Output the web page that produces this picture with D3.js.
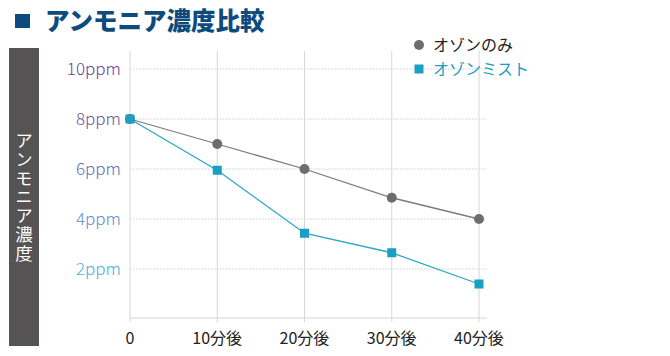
<!DOCTYPE html>
<html><head><meta charset="utf-8">
<script src="https://cdn.jsdelivr.net/npm/d3@7"></script>
<style>body{margin:0;background:#fff;}svg{display:block;}</style>
</head><body>
<svg id="c" width="670" height="356"></svg>
<script>
const categories = ["0", "10分後", "20分後", "30分後", "40分後"];
const ozoneOnly = [8, 7, 6, 4.85, 4];
const ozoneMist = [8, 5.95, 3.43, 2.65, 1.4];
const yTicks = [2, 4, 6, 8, 10];
const yTickLabels = ["2ppm", "4ppm", "6ppm", "8ppm", "10ppm"];
const yTickColors = ["#45b0e0", "#5a8fd4", "#6470b8", "#6a58a8", "#6a3f9c"];
const seriesNames = ["オゾンのみ", "オゾンミスト"];
const title = "アンモニア濃度比較";
const yTitle = "アンモニア濃度";

const svg = d3.select("#c");
const font = "'Noto Sans CJK JP', 'Noto Sans', sans-serif";

// title
svg.append("rect").attr("x", 15).attr("y", 14).attr("width", 15).attr("height", 14).attr("fill", "#0d4b7e");
svg.append("text").attr("x", 45).attr("y", 29.5).attr("font-family", font).attr("font-weight", "900")
  .attr("font-size", 24.5).attr("fill", "#0d4b7e").text(title);

// y title bar
svg.append("rect").attr("x", 9).attr("y", 48).attr("width", 30).attr("height", 298).attr("fill", "#555354");
svg.append("text").attr("x", 24).attr("y", 132)
  .attr("font-family", font).attr("font-size", 17.5).attr("fill", "#fff")
  .style("writing-mode", "vertical-rl").style("text-orientation", "upright")
  .attr("letter-spacing", 1.2).text(yTitle);

const x = d3.scalePoint().domain(categories).range([130, 479]);
const y = d3.scaleLinear().domain([0, 10]).range([319, 69]);

// horizontal dotted gridlines
svg.append("g").selectAll("line").data(yTicks).join("line")
  .attr("x1", 130).attr("x2", 487).attr("y1", d => y(d)).attr("y2", d => y(d))
  .attr("stroke", "#cfcfcf").attr("stroke-width", 1).attr("stroke-dasharray", "1.5,1.5");

// vertical gridlines
svg.append("g").selectAll("line").data(categories).join("line")
  .attr("x1", d => x(d)).attr("x2", d => x(d)).attr("y1", 51).attr("y2", 322)
  .attr("stroke", "#d6d6d6").attr("stroke-width", 1);

// bottom axis line
svg.append("line").attr("x1", 130).attr("x2", 487).attr("y1", 318).attr("y2", 318)
  .attr("stroke", "#d6d6d6").attr("stroke-width", 1);

// y tick labels
svg.append("g").selectAll("text").data(yTicks).join("text")
  .attr("x", 121).attr("y", d => y(d) + 6).attr("text-anchor", "end")
  .attr("font-family", font).attr("font-size", 17).attr("font-weight", 300)
  .attr("fill", (d, i) => yTickColors[i]).text((d, i) => yTickLabels[i]);

// x tick labels
svg.append("g").selectAll("text").data(categories).join("text")
  .attr("x", d => x(d)).attr("y", 343.5).attr("text-anchor", "middle")
  .attr("font-family", font).attr("font-size", 16).attr("fill", "#222").text(d => d);

const line = d3.line().x((d, i) => x(categories[i])).y(d => y(d));

svg.append("path").datum(ozoneOnly).attr("d", line).attr("fill", "none").attr("stroke", "#7c7c7c").attr("stroke-width", 1.3);
svg.append("path").datum(ozoneMist).attr("d", line).attr("fill", "none").attr("stroke", "#2aa8c8").attr("stroke-width", 1.3);

svg.append("g").selectAll("circle").data(ozoneOnly).join("circle")
  .attr("cx", (d, i) => x(categories[i])).attr("cy", d => y(d)).attr("r", 5).attr("fill", "#6d6d6d");
svg.append("g").selectAll("rect").data(ozoneMist).join("rect")
  .attr("x", (d, i) => x(categories[i]) - 4.5).attr("y", d => y(d) - 4.5)
  .attr("width", 9).attr("height", 9).attr("fill", "#1a9fc2");

// legend
svg.append("circle").attr("cx", 419).attr("cy", 45).attr("r", 5).attr("fill", "#6d6d6d");
svg.append("text").attr("x", 433).attr("y", 51).attr("font-family", font).attr("font-size", 16).attr("fill", "#222").text(seriesNames[0]);
svg.append("rect").attr("x", 414.5).attr("y", 64.5).attr("width", 9).attr("height", 9).attr("fill", "#1a9fc2");
svg.append("text").attr("x", 433).attr("y", 75).attr("font-family", font).attr("font-size", 16).attr("fill", "#1a9fc2").text(seriesNames[1]);
</script>
</body></html>
